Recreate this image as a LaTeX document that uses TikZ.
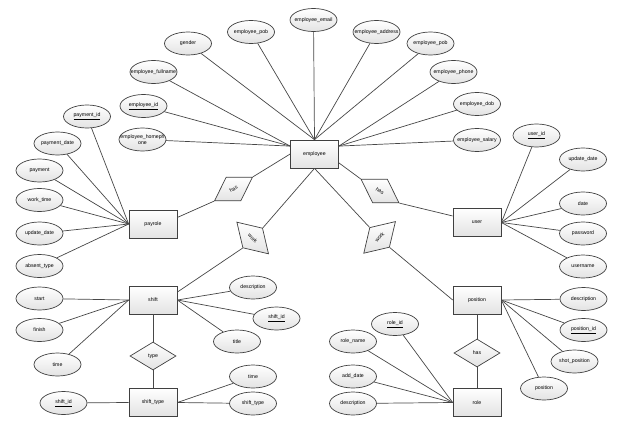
\documentclass[tikz,border=0pt]{standalone}
\usepackage{fontspec}
\setmainfont{Liberation Sans}
\usetikzlibrary{shapes.geometric}
\newcommand{\zt}[1]{\makebox[0pt]{#1}}
\newcommand{\zu}[1]{\makebox[0pt]{\underline{#1}}}
\begin{document}
\begin{tikzpicture}[x=1pt,y=-1pt,
  every node/.style={font=\fontsize{5.2}{6}\selectfont, text=black},
  ent/.style={rectangle, draw=black!75, line width=0.7pt, top color=white, bottom color=black!11, minimum width=48pt, minimum height=28pt, inner sep=0pt},
  attr/.style={ellipse, draw=black!75, line width=0.7pt, top color=white, bottom color=black!11, minimum width=47pt, minimum height=23pt, inner sep=0pt, align=center},
  rel/.style={diamond, draw=black!75, line width=0.7pt, top color=white, bottom color=black!11, minimum width=46pt, minimum height=28pt, inner sep=0pt},
  rrel/.style={rel, minimum width=45pt},
  link/.style={draw=black!72, line width=0.7pt}
]
\useasboundingbox (0,0) rectangle (623,433);
% entities
\node[ent] (employee) at (314.5,154) {employee};
\node[ent] (payrole) at (153,224) {payrole};
\node[ent] (user) at (477,222.5) {user};
\node[ent] (shift) at (153,300) {shift};
\node[ent] (shifttype) at (153,402.5) {shift\_type};
\node[ent] (position) at (477,300) {position};
\node[ent] (role) at (477,402.5) {role};
% relations
\node[rrel, rotate=32] (has1) at (233.5,189) {has};
\node[rrel, rotate=-32] (has2) at (380,191) {has};
\node[rrel, rotate=-45] (work1) at (252.7,238) {work};
\node[rrel, rotate=45] (work2) at (379.6,237.4) {work};
\node[rel] (type) at (153,356) {type};
\node[rel] (has3) at (477,353) {has};
% employee attributes
\node[attr] (gender) at (188,43.5) {\zt{gender}};
\node[attr] (epob1) at (251,32) {\zt{employee\_pob}};
\node[attr] (email) at (313.5,20) {\zt{employee\_email}};
\node[attr] (address) at (376.5,32) {\zt{employee\_address}};
\node[attr] (epob2) at (430.5,43.5) {\zt{employee\_pob}};
\node[attr] (phone) at (453.5,72) {\zt{employee\_phone}};
\node[attr] (dob) at (477,104) {\zt{employee\_dob}};
\node[attr] (salary) at (477,140) {\zt{employee\_salary}};
\node[attr] (fullname) at (153.5,72) {\zt{employee\_fullname}};
\node[attr] (eid) at (143.5,106) {\zu{employee\_id}};
\node[attr] (homephone) at (142.5,139.5) {\zt{employee\_homeph}\\\zt{one}};
% payrole attributes
\node[attr] (paymentid) at (87,116.5) {\zu{payment\_id}};
\node[attr] (paymentdate) at (57.5,143.5) {\zt{payment\_date}};
\node[attr] (payment) at (39.5,170.5) {\zt{payment}};
\node[attr] (worktime) at (39.5,200) {\zt{work\_time}};
\node[attr] (updatedate) at (39.5,233.5) {\zt{update\_date}};
\node[attr] (absenttype) at (39.5,266) {\zt{absent\_type}};
% user attributes
\node[attr] (userid) at (536.5,135.5) {\zu{user\_id}};
\node[attr] (uupdate) at (583,159.5) {\zt{update\_date}};
\node[attr] (date) at (583,203.5) {\zt{date}};
\node[attr] (password) at (583,233.5) {\zt{password}};
\node[attr] (username) at (583,266.5) {\zt{username}};
% shift attributes
\node[attr] (start) at (39.5,298.5) {\zt{start}};
\node[attr] (finish) at (39.5,330) {\zt{finish}};
\node[attr] (time) at (57.5,364.5) {\zt{time}};
\node[attr] (sdesc) at (253,287.5) {\zt{description}};
\node[attr] (shiftid) at (276.5,318.5) {\zu{shift\_id}};
\node[attr] (title) at (237,341.5) {\zt{title}};
% shift_type attributes
\node[attr] (stid) at (63.5,403) {\zu{shift\_id}};
\node[attr] (sttime) at (253,376.5) {\zt{time}};
\node[attr] (stattr) at (253,403.5) {\zt{shift\_type}};
% position attributes
\node[attr] (pdesc) at (583.5,299) {\zt{description}};
\node[attr] (positionid) at (583.5,330) {\zu{position\_id}};
\node[attr] (shotposition) at (574.5,361.5) {\zt{shot\_position}};
\node[attr] (posattr) at (544,388.5) {\zt{position}};
% role attributes
\node[attr] (roleid) at (395,324) {\zu{role\_id}};
\node[attr] (rolename) at (353,341.5) {\zt{role\_name}};
\node[attr] (adddate) at (353,376.5) {\zt{add\_date}};
\node[attr] (rdesc) at (353,403.5) {\zt{description}};
% employee links
\foreach \a in {fullname,eid,homephone} \draw[link] (\a) -- (employee.162);
\foreach \a in {gender,epob1,email,address,epob2} \draw[link] (\a) -- (employee.north);
\foreach \a in {phone,dob,salary} \draw[link] (\a) -- (employee.18);
% payrole links
\foreach \a in {paymentid,paymentdate,payment,worktime,updatedate,absenttype} \draw[link] (\a) -- (payrole.west);
\draw[link] (payrole.15) -- (has1.west);
\draw[link] (has1.east) -- (employee.west);
% user links
\foreach \a in {userid,uupdate,date,password,username} \draw[link] (\a) -- (user.east);
\draw[link] (employee.-20) -- (has2.west);
\draw[link] (has2.east) -- (user.165);
% shift links
\draw[link] (employee.south) -- (work1.north);
\draw[link] (work1.south) -- (shift.18);
\foreach \a in {start,finish,time} \draw[link] (\a) -- (shift.west);
\foreach \a in {sdesc,shiftid,title} \draw[link] (\a) -- (shift.east);
\draw[link] (shift.south) -- (type.north);
\draw[link] (type.south) -- (shifttype.north);
\draw[link] (stid) -- (shifttype.west);
\foreach \a in {sttime,stattr} \draw[link] (\a) -- (shifttype.east);
% position links
\draw[link] (employee.south) -- (work2.north);
\draw[link] (work2.south) -- (position.west);
\foreach \a in {pdesc,positionid,shotposition,posattr} \draw[link] (\a) -- (position.east);
\draw[link] (position.south) -- (has3.north);
\draw[link] (has3.south) -- (role.north);
\foreach \a in {roleid,rolename,adddate,rdesc} \draw[link] (\a) -- (role.west);
\end{tikzpicture}
\end{document}
